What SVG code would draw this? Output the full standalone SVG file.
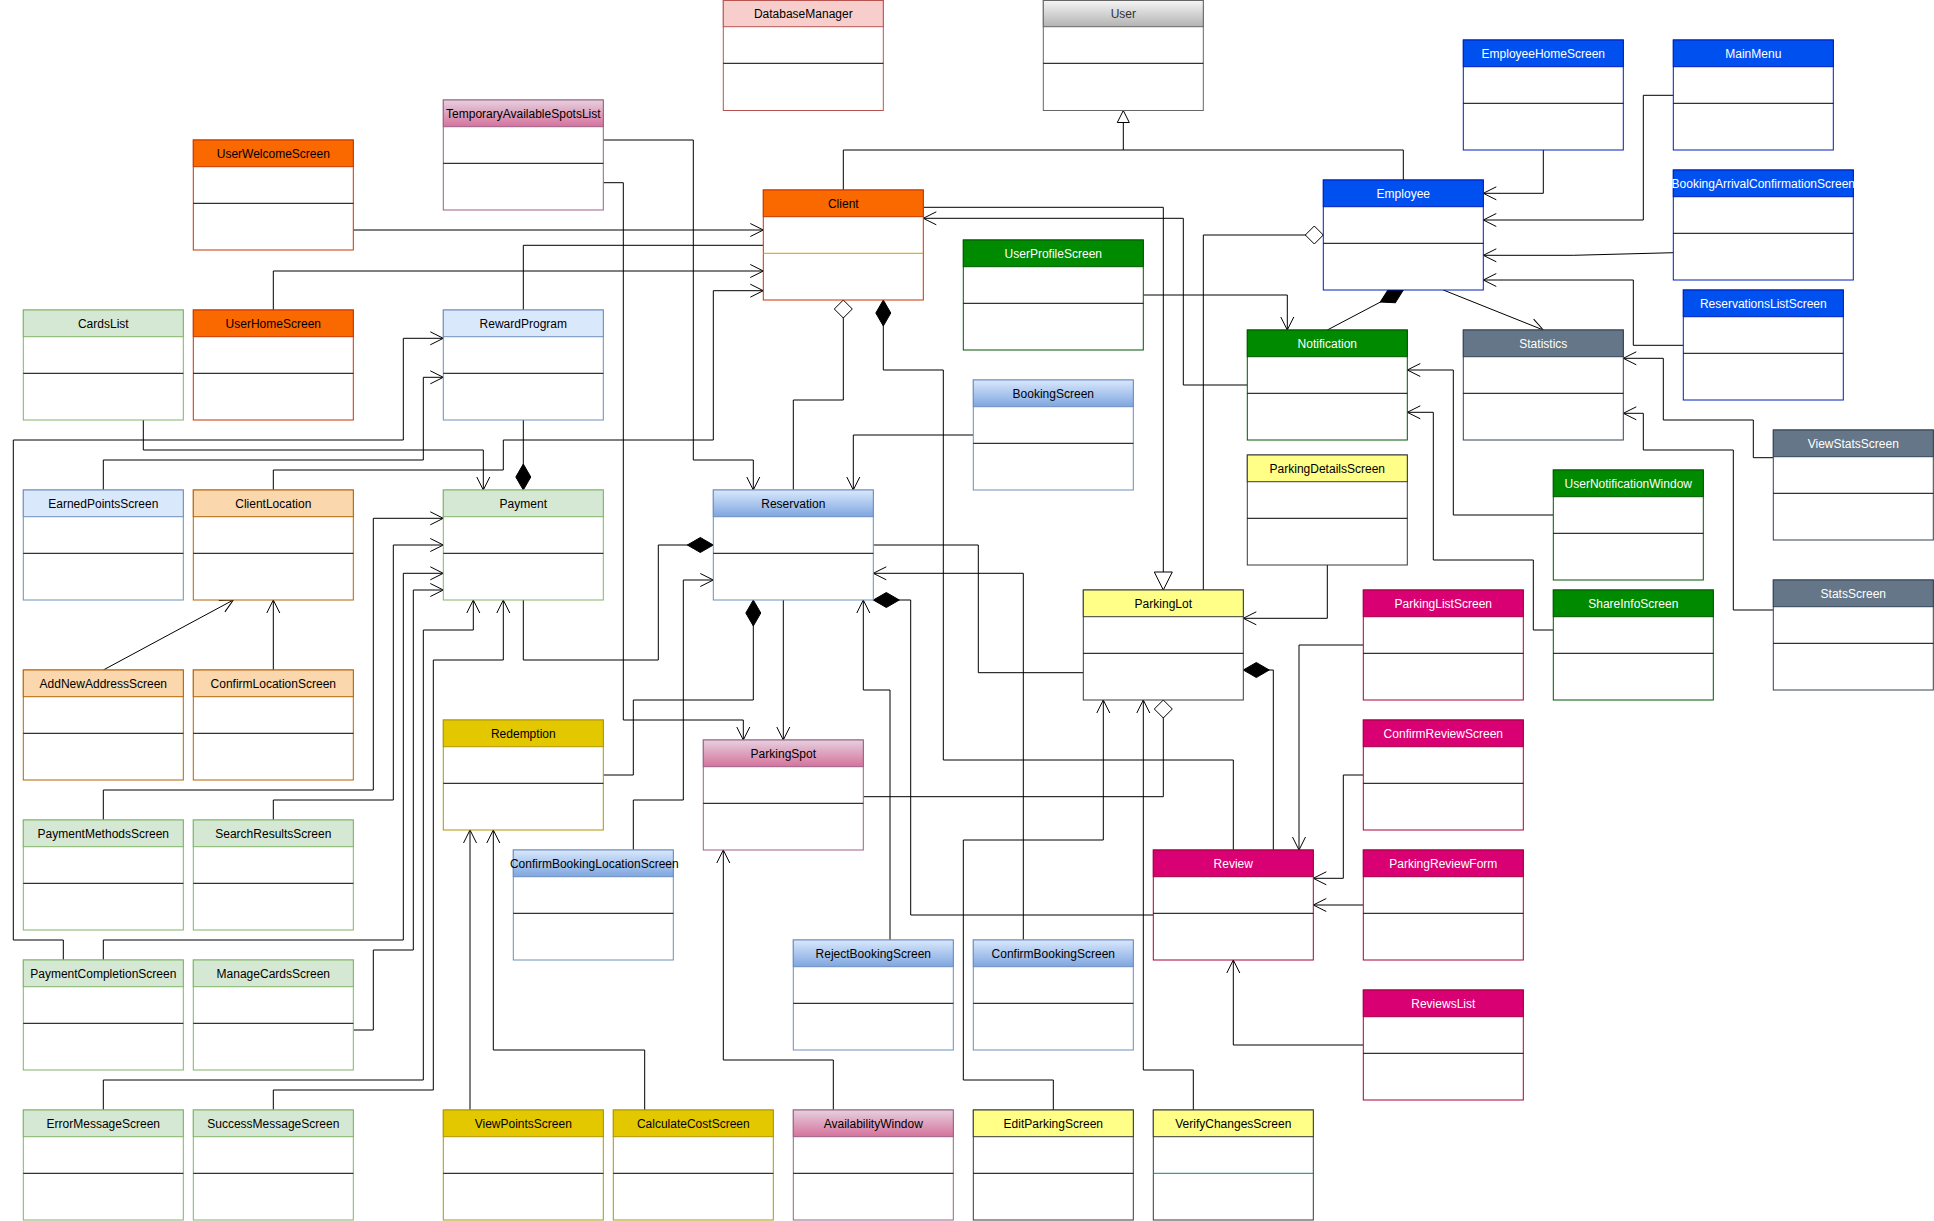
<svg xmlns="http://www.w3.org/2000/svg" width="1934" height="1221" viewBox="0 0 1934 1221">
<style>
text{font-family:"Liberation Sans",Arial,Helvetica,sans-serif;font-size:12px;text-anchor:middle;fill:#000}
.node rect{fill:#fff;stroke-width:1}
.node line{stroke:#000;stroke-width:1}
.orange rect{stroke:#C73500}.orange .h{fill:#fa6800}
.red rect{stroke:#b85450}.red .h{fill:#f8cecc}
.gray rect{stroke:#666666}.gray .h{fill:url(#gGray)}.gray text{fill:#333}
.blue rect{stroke:#001DBC}.blue .h{fill:#0050ef}.blue text{fill:#fff}
.green rect{stroke:#005700}.green .h{fill:#008a00}.green text{fill:#fff}
.slate rect{stroke:#314354}.slate .h{fill:#647687}.slate text{fill:#fff}
.lgreen rect{stroke:#82b366}.lgreen .h{fill:#d5e8d4}
.lblue rect{stroke:#6c8ebf}.lblue .h{fill:#dae8fc}
.peach rect{stroke:#b46504}.peach .h{fill:#fad7ac}
.bgrad rect{stroke:#6c8ebf}.bgrad .h{fill:url(#gBlue)}
.pgrad rect{stroke:#996185}.pgrad .h{fill:url(#gPink)}
.gold rect{stroke:#B09500}.gold .h{fill:#e3c800}
.yellow rect{stroke:#36393d}.yellow .h{fill:#ffff88}
.mag rect{stroke:#A50040}.mag .h{fill:#d80073}.mag text{fill:#fff}
#connectors path{fill:none;stroke:#000;stroke-width:1}
.a{marker-end:url(#arr)}
</style>
<defs>
<linearGradient id="gBlue" x1="0" y1="0" x2="0" y2="1"><stop offset="0" stop-color="#dae8fc"/><stop offset="1" stop-color="#7ea6e0"/></linearGradient>
<linearGradient id="gPink" x1="0" y1="0" x2="0" y2="1"><stop offset="0" stop-color="#e6d0de"/><stop offset="1" stop-color="#d5739d"/></linearGradient>
<linearGradient id="gGray" x1="0" y1="0" x2="0" y2="1"><stop offset="0" stop-color="#f5f5f5"/><stop offset="1" stop-color="#b3b3b3"/></linearGradient>
<marker id="arr" viewBox="-16 -10 20 20" refX="0" refY="0" markerWidth="20" markerHeight="20" markerUnits="userSpaceOnUse" orient="auto"><path d="M-13,-6.5 L0,0 L-13,6.5" fill="none" stroke="#000" stroke-width="1"/></marker>
<marker id="tri" viewBox="-16 -10 20 20" refX="0" refY="0" markerWidth="20" markerHeight="20" markerUnits="userSpaceOnUse" orient="auto"><path d="M-12,-6 L0,0 L-12,6 Z" fill="#fff" stroke="#000" stroke-width="1"/></marker>
<marker id="triL" viewBox="-22 -12 26 24" refX="0" refY="0" markerWidth="26" markerHeight="24" markerUnits="userSpaceOnUse" orient="auto"><path d="M-18,-9 L0,0 L-18,9 Z" fill="#fff" stroke="#000" stroke-width="1"/></marker>
<marker id="dF" viewBox="-2 -10 32 20" refX="0" refY="0" markerWidth="32" markerHeight="20" markerUnits="userSpaceOnUse" orient="auto"><path d="M0,0 L13,-7.5 L26,0 L13,7.5 Z" fill="#000" stroke="#000" stroke-width="1"/></marker>
<marker id="dO" viewBox="-2 -11 24 22" refX="0" refY="0" markerWidth="24" markerHeight="22" markerUnits="userSpaceOnUse" orient="auto"><path d="M0,0 L9,-9 L18,0 L9,9 Z" fill="#fff" stroke="#000" stroke-width="1"/></marker>
</defs>
<rect width="1934" height="1221" fill="#fff"/>

<g id="connectors">
<path class="a" d="M353.3,230 H763.3"/>
<path class="a" d="M273.3,310 V271 H763.3"/>
<path d="M763.3,245.3 H523.3 V310"/>
<path class="a" d="M273.3,490 V470 H503.3 V440 H713.3 V290.7 H763.3"/>
<path marker-start="url(#dO)" d="M843.3,300 V400 H793.3 V490"/>
<path marker-start="url(#dF)" d="M883.3,300 V370 H943.3 V760 H1233.3 V850"/>
<path marker-end="url(#triL)" d="M923.3,207.3 H1163.3 V590"/>
<path class="a" d="M1247.3,385 H1183.3 V218.3 H923.3"/>
<path marker-end="url(#tri)" d="M843.3,190 V150 H1123.3 V110.5"/>
<path d="M1403.3,180 V150 H1123.3"/>
<path marker-start="url(#dO)" d="M1323.3,235 H1203.3 V590"/>
<path class="a" d="M1143.3,295 H1287.3 V330"/>
<path marker-start="url(#dF)" d="M1403.3,290 L1327.3,330"/>
<path class="a" d="M1443.3,290 L1543.3,330"/>
<path class="a" d="M1543.3,150 V193.3 H1483.3"/>
<path class="a" d="M1673.3,95.3 H1643.3 V220 H1483.3"/>
<path class="a" d="M1673.3,252.7 L1573.3,255.3 H1483.3"/>
<path class="a" d="M1683.3,345.3 H1633.3 V280 H1483.3"/>
<path class="a" d="M1773.3,457.7 H1753.3 V420 H1663.3 V358.3 H1623.3"/>
<path class="a" d="M1773.3,610 H1733.3 V450 H1643.3 V413.3 H1623.3"/>
<path class="a" d="M1553.3,515 H1453.3 V370 H1407.3"/>
<path class="a" d="M1553.3,630 H1533.3 V560 H1433.3 V412.3 H1407.3"/>
<path class="a" d="M603.3,140 H693.3 V460 H753.3 V490"/>
<path class="a" d="M603.3,182.7 H623.3 V720 H743.3 V740"/>
<path class="a" d="M973.3,435 H853.3 V490"/>
<path d="M873.3,545 H978.3 V672.7 H1083.3"/>
<path class="a" d="M1023.3,940 V573.3 H873.3"/>
<path marker-start="url(#dF)" d="M873.3,600 H910.7 V915 H1153.3"/>
<path class="a" d="M890,940 V690 H863.3 V600"/>
<path marker-start="url(#dF)" d="M753.3,600 V700 H633.3 V775 H603.3"/>
<path class="a" d="M783.3,600 V740"/>
<path marker-start="url(#dF)" d="M713.3,545 H658.3 V660 H523.3 V600"/>
<path class="a" d="M633.3,850 V800 H683.3 V580 H713.3"/>
<path marker-start="url(#dF)" d="M523.3,490 V420"/>
<path class="a" d="M143.3,420 V450 H483.3 V490"/>
<path class="a" d="M103.3,820 V790 H373.3 V518.3 H443.3"/>
<path class="a" d="M273.3,820 V800 H393.3 V545 H443.3"/>
<path class="a" d="M103.3,960 V940 H403.3 V573.3 H443.3"/>
<path class="a" d="M353.3,1030 H373.3 V950 H413.3 V590 H443.3"/>
<path class="a" d="M103.3,1110 V1080 H423.3 V630 H473.3 V600"/>
<path class="a" d="M273.3,1110 V1090 H433.3 V660 H503.3 V600"/>
<path class="a" d="M63.3,960 V940 H13.3 V440 H403.3 V338.3 H443.3"/>
<path class="a" d="M103.3,490 V460 H423.3 V377.3 H443.3"/>
<path class="a" d="M103.3,670 L233.3,600"/>
<path class="a" d="M273.3,670 V600"/>
<path class="a" d="M470,1110 V830"/>
<path class="a" d="M644.7,1110 V1050 H493.3 V830"/>
<path class="a" d="M833.3,1110 V1060 H723.3 V850"/>
<path class="a" d="M1053.3,1110 V1080 H963.3 V840 H1103.3 V700"/>
<path class="a" d="M1193.3,1110 V1070 H1143.3 V700"/>
<path marker-start="url(#dF)" d="M1243.3,670 H1273.3 V850"/>
<path class="a" d="M1327.3,565 V618.3 H1243.3"/>
<path marker-start="url(#dO)" d="M1163.3,700 V796.7 H863.3"/>
<path class="a" d="M1363.3,645 H1299 V850"/>
<path class="a" d="M1363.3,775 H1343.3 V878.3 H1313.3"/>
<path class="a" d="M1363.3,905 H1313.3"/>
<path class="a" d="M1363.3,1045 H1233.3 V960"/>
</g>

<g id="UserWelcomeScreen" class="node orange" transform="translate(193.3,140)"><rect width="160" height="110"/><rect class="h" width="160" height="26.7"/><line x1="0" y1="63.3" x2="160" y2="63.3"/><text x="80" y="17.5">UserWelcomeScreen</text></g>
<g id="TemporaryAvailableSpotsList" class="node pgrad" transform="translate(443.3,100)"><rect width="160" height="110"/><rect class="h" width="160" height="26.7"/><line x1="0" y1="63.3" x2="160" y2="63.3"/><text x="80" y="17.5">TemporaryAvailableSpotsList</text></g>
<g id="DatabaseManager" class="node red" transform="translate(723.3,0.5)"><rect width="160" height="110"/><rect class="h" width="160" height="26.2"/><line x1="0" y1="62.8" x2="160" y2="62.8"/><text x="80" y="17">DatabaseManager</text></g>
<g id="User" class="node gray" transform="translate(1043.3,0.5)"><rect width="160" height="110"/><rect class="h" width="160" height="26.2"/><line x1="0" y1="62.8" x2="160" y2="62.8"/><text x="80" y="17">User</text></g>
<g id="Client" class="node orange" transform="translate(763.3,190)"><rect width="160" height="110"/><rect class="h" width="160" height="26.7"/><line x1="0" y1="63.3" x2="160" y2="63.3" style="stroke:#d79b00"/><text x="80" y="17.5">Client</text></g>
<g id="EmployeeHomeScreen" class="node blue" transform="translate(1463.3,40)"><rect width="160" height="110"/><rect class="h" width="160" height="26.7"/><line x1="0" y1="63.3" x2="160" y2="63.3"/><text x="80" y="17.5">EmployeeHomeScreen</text></g>
<g id="MainMenu" class="node blue" transform="translate(1673.3,40)"><rect width="160" height="110"/><rect class="h" width="160" height="26.7"/><line x1="0" y1="63.3" x2="160" y2="63.3"/><text x="80" y="17.5">MainMenu</text></g>
<g id="Employee" class="node blue" transform="translate(1323.3,180)"><rect width="160" height="110"/><rect class="h" width="160" height="26.7"/><line x1="0" y1="63.3" x2="160" y2="63.3"/><text x="80" y="17.5">Employee</text></g>
<g id="BookingArrivalConfirmationScreen" class="node blue" transform="translate(1673.3,170)"><rect width="180" height="110"/><rect class="h" width="180" height="26.7"/><line x1="0" y1="63.3" x2="180" y2="63.3"/><text x="90" y="17.5">BookingArrivalConfirmationScreen</text></g>
<g id="UserProfileScreen" class="node green" transform="translate(963.3,240)"><rect width="180" height="110"/><rect class="h" width="180" height="26.7"/><line x1="0" y1="63.3" x2="180" y2="63.3"/><text x="90" y="17.5">UserProfileScreen</text></g>
<g id="CardsList" class="node lgreen" transform="translate(23.3,310)"><rect width="160" height="110"/><rect class="h" width="160" height="26.7"/><line x1="0" y1="63.3" x2="160" y2="63.3"/><text x="80" y="17.5">CardsList</text></g>
<g id="UserHomeScreen" class="node orange" transform="translate(193.3,310)"><rect width="160" height="110"/><rect class="h" width="160" height="26.7"/><line x1="0" y1="63.3" x2="160" y2="63.3"/><text x="80" y="17.5">UserHomeScreen</text></g>
<g id="RewardProgram" class="node lblue" transform="translate(443.3,310)"><rect width="160" height="110"/><rect class="h" width="160" height="26.7"/><line x1="0" y1="63.3" x2="160" y2="63.3"/><text x="80" y="17.5">RewardProgram</text></g>
<g id="Notification" class="node green" transform="translate(1247.3,330)"><rect width="160" height="110"/><rect class="h" width="160" height="26.7"/><line x1="0" y1="63.3" x2="160" y2="63.3"/><text x="80" y="17.5">Notification</text></g>
<g id="Statistics" class="node slate" transform="translate(1463.3,330)"><rect width="160" height="110"/><rect class="h" width="160" height="26.7"/><line x1="0" y1="63.3" x2="160" y2="63.3"/><text x="80" y="17.5">Statistics</text></g>
<g id="ReservationsListScreen" class="node blue" transform="translate(1683.3,290)"><rect width="160" height="110"/><rect class="h" width="160" height="26.7"/><line x1="0" y1="63.3" x2="160" y2="63.3"/><text x="80" y="17.5">ReservationsListScreen</text></g>
<g id="BookingScreen" class="node bgrad" transform="translate(973.3,380)"><rect width="160" height="110"/><rect class="h" width="160" height="26.7"/><line x1="0" y1="63.3" x2="160" y2="63.3"/><text x="80" y="17.5">BookingScreen</text></g>
<g id="ViewStatsScreen" class="node slate" transform="translate(1773.3,430)"><rect width="160" height="110"/><rect class="h" width="160" height="26.7"/><line x1="0" y1="63.3" x2="160" y2="63.3"/><text x="80" y="17.5">ViewStatsScreen</text></g>
<g id="ParkingDetailsScreen" class="node yellow" transform="translate(1247.3,455)"><rect width="160" height="110"/><rect class="h" width="160" height="26.7"/><line x1="0" y1="63.3" x2="160" y2="63.3"/><text x="80" y="17.5">ParkingDetailsScreen</text></g>
<g id="UserNotificationWindow" class="node green" transform="translate(1553.3,470)"><rect width="150" height="110"/><rect class="h" width="150" height="26.7"/><line x1="0" y1="63.3" x2="150" y2="63.3"/><text x="75" y="17.5">UserNotificationWindow</text></g>
<g id="EarnedPointsScreen" class="node lblue" transform="translate(23.3,490)"><rect width="160" height="110"/><rect class="h" width="160" height="26.7"/><line x1="0" y1="63.3" x2="160" y2="63.3"/><text x="80" y="17.5">EarnedPointsScreen</text></g>
<g id="ClientLocation" class="node peach" transform="translate(193.3,490)"><rect width="160" height="110"/><rect class="h" width="160" height="26.7"/><line x1="0" y1="63.3" x2="160" y2="63.3"/><text x="80" y="17.5">ClientLocation</text></g>
<g id="Payment" class="node lgreen" transform="translate(443.3,490)"><rect width="160" height="110"/><rect class="h" width="160" height="26.7"/><line x1="0" y1="63.3" x2="160" y2="63.3"/><text x="80" y="17.5">Payment</text></g>
<g id="Reservation" class="node bgrad" transform="translate(713.3,490)"><rect width="160" height="110"/><rect class="h" width="160" height="26.7"/><line x1="0" y1="63.3" x2="160" y2="63.3"/><text x="80" y="17.5">Reservation</text></g>
<g id="StatsScreen" class="node slate" transform="translate(1773.3,580)"><rect width="160" height="110"/><rect class="h" width="160" height="26.7"/><line x1="0" y1="63.3" x2="160" y2="63.3"/><text x="80" y="17.5">StatsScreen</text></g>
<g id="ParkingLot" class="node yellow" transform="translate(1083.3,590)"><rect width="160" height="110"/><rect class="h" width="160" height="26.7"/><line x1="0" y1="63.3" x2="160" y2="63.3"/><text x="80" y="17.5">ParkingLot</text></g>
<g id="ParkingListScreen" class="node mag" transform="translate(1363.3,590)"><rect width="160" height="110"/><rect class="h" width="160" height="26.7"/><line x1="0" y1="63.3" x2="160" y2="63.3"/><text x="80" y="17.5">ParkingListScreen</text></g>
<g id="ShareInfoScreen" class="node green" transform="translate(1553.3,590)"><rect width="160" height="110"/><rect class="h" width="160" height="26.7"/><line x1="0" y1="63.3" x2="160" y2="63.3"/><text x="80" y="17.5">ShareInfoScreen</text></g>
<g id="AddNewAddressScreen" class="node peach" transform="translate(23.3,670)"><rect width="160" height="110"/><rect class="h" width="160" height="26.7"/><line x1="0" y1="63.3" x2="160" y2="63.3"/><text x="80" y="17.5">AddNewAddressScreen</text></g>
<g id="ConfirmLocationScreen" class="node peach" transform="translate(193.3,670)"><rect width="160" height="110"/><rect class="h" width="160" height="26.7"/><line x1="0" y1="63.3" x2="160" y2="63.3"/><text x="80" y="17.5">ConfirmLocationScreen</text></g>
<g id="Redemption" class="node gold" transform="translate(443.3,720)"><rect width="160" height="110"/><rect class="h" width="160" height="26.7"/><line x1="0" y1="63.3" x2="160" y2="63.3"/><text x="80" y="17.5">Redemption</text></g>
<g id="ConfirmReviewScreen" class="node mag" transform="translate(1363.3,720)"><rect width="160" height="110"/><rect class="h" width="160" height="26.7"/><line x1="0" y1="63.3" x2="160" y2="63.3"/><text x="80" y="17.5">ConfirmReviewScreen</text></g>
<g id="ParkingSpot" class="node pgrad" transform="translate(703.3,740)"><rect width="160" height="110"/><rect class="h" width="160" height="26.7"/><line x1="0" y1="63.3" x2="160" y2="63.3"/><text x="80" y="17.5">ParkingSpot</text></g>
<g id="PaymentMethodsScreen" class="node lgreen" transform="translate(23.3,820)"><rect width="160" height="110"/><rect class="h" width="160" height="26.7"/><line x1="0" y1="63.3" x2="160" y2="63.3"/><text x="80" y="17.5">PaymentMethodsScreen</text></g>
<g id="SearchResultsScreen" class="node lgreen" transform="translate(193.3,820)"><rect width="160" height="110"/><rect class="h" width="160" height="26.7"/><line x1="0" y1="63.3" x2="160" y2="63.3"/><text x="80" y="17.5">SearchResultsScreen</text></g>
<g id="ConfirmBookingLocationScreen" class="node bgrad" transform="translate(513.3,850)"><rect width="160" height="110"/><rect class="h" width="160" height="26.7"/><line x1="0" y1="63.3" x2="160" y2="63.3"/><text x="81" y="17.5">ConfirmBookingLocationScreen</text></g>
<g id="Review" class="node mag" transform="translate(1153.3,850)"><rect width="160" height="110"/><rect class="h" width="160" height="26.7"/><line x1="0" y1="63.3" x2="160" y2="63.3"/><text x="80" y="17.5">Review</text></g>
<g id="ParkingReviewForm" class="node mag" transform="translate(1363.3,850)"><rect width="160" height="110"/><rect class="h" width="160" height="26.7"/><line x1="0" y1="63.3" x2="160" y2="63.3"/><text x="80" y="17.5">ParkingReviewForm</text></g>
<g id="RejectBookingScreen" class="node bgrad" transform="translate(793.3,940)"><rect width="160" height="110"/><rect class="h" width="160" height="26.7"/><line x1="0" y1="63.3" x2="160" y2="63.3"/><text x="80" y="17.5">RejectBookingScreen</text></g>
<g id="ConfirmBookingScreen" class="node bgrad" transform="translate(973.3,940)"><rect width="160" height="110"/><rect class="h" width="160" height="26.7"/><line x1="0" y1="63.3" x2="160" y2="63.3"/><text x="80" y="17.5">ConfirmBookingScreen</text></g>
<g id="PaymentCompletionScreen" class="node lgreen" transform="translate(23.3,960)"><rect width="160" height="110"/><rect class="h" width="160" height="26.7"/><line x1="0" y1="63.3" x2="160" y2="63.3"/><text x="80" y="17.5">PaymentCompletionScreen</text></g>
<g id="ManageCardsScreen" class="node lgreen" transform="translate(193.3,960)"><rect width="160" height="110"/><rect class="h" width="160" height="26.7"/><line x1="0" y1="63.3" x2="160" y2="63.3"/><text x="80" y="17.5">ManageCardsScreen</text></g>
<g id="ReviewsList" class="node mag" transform="translate(1363.3,990)"><rect width="160" height="110"/><rect class="h" width="160" height="26.7"/><line x1="0" y1="63.3" x2="160" y2="63.3"/><text x="80" y="17.5">ReviewsList</text></g>
<g id="ErrorMessageScreen" class="node lgreen" transform="translate(23.3,1110)"><rect width="160" height="110"/><rect class="h" width="160" height="26.7"/><line x1="0" y1="63.3" x2="160" y2="63.3"/><text x="80" y="17.5">ErrorMessageScreen</text></g>
<g id="SuccessMessageScreen" class="node lgreen" transform="translate(193.3,1110)"><rect width="160" height="110"/><rect class="h" width="160" height="26.7"/><line x1="0" y1="63.3" x2="160" y2="63.3"/><text x="80" y="17.5">SuccessMessageScreen</text></g>
<g id="ViewPointsScreen" class="node gold" transform="translate(443.3,1110)"><rect width="160" height="110"/><rect class="h" width="160" height="26.7"/><line x1="0" y1="63.3" x2="160" y2="63.3"/><text x="80" y="17.5">ViewPointsScreen</text></g>
<g id="CalculateCostScreen" class="node gold" transform="translate(613.3,1110)"><rect width="160" height="110"/><rect class="h" width="160" height="26.7"/><line x1="0" y1="63.3" x2="160" y2="63.3"/><text x="80" y="17.5">CalculateCostScreen</text></g>
<g id="AvailabilityWindow" class="node pgrad" transform="translate(793.3,1110)"><rect width="160" height="110"/><rect class="h" width="160" height="26.7"/><line x1="0" y1="63.3" x2="160" y2="63.3"/><text x="80" y="17.5">AvailabilityWindow</text></g>
<g id="EditParkingScreen" class="node yellow" transform="translate(973.3,1110)"><rect width="160" height="110"/><rect class="h" width="160" height="26.7"/><line x1="0" y1="63.3" x2="160" y2="63.3"/><text x="80" y="17.5">EditParkingScreen</text></g>
<g id="VerifyChangesScreen" class="node yellow" transform="translate(1153.3,1110)"><rect width="160" height="110"/><rect class="h" width="160" height="26.7"/><line x1="0" y1="63.3" x2="160" y2="63.3" style="stroke:#0e8088"/><text x="80" y="17.5">VerifyChangesScreen</text></g>
</svg>
